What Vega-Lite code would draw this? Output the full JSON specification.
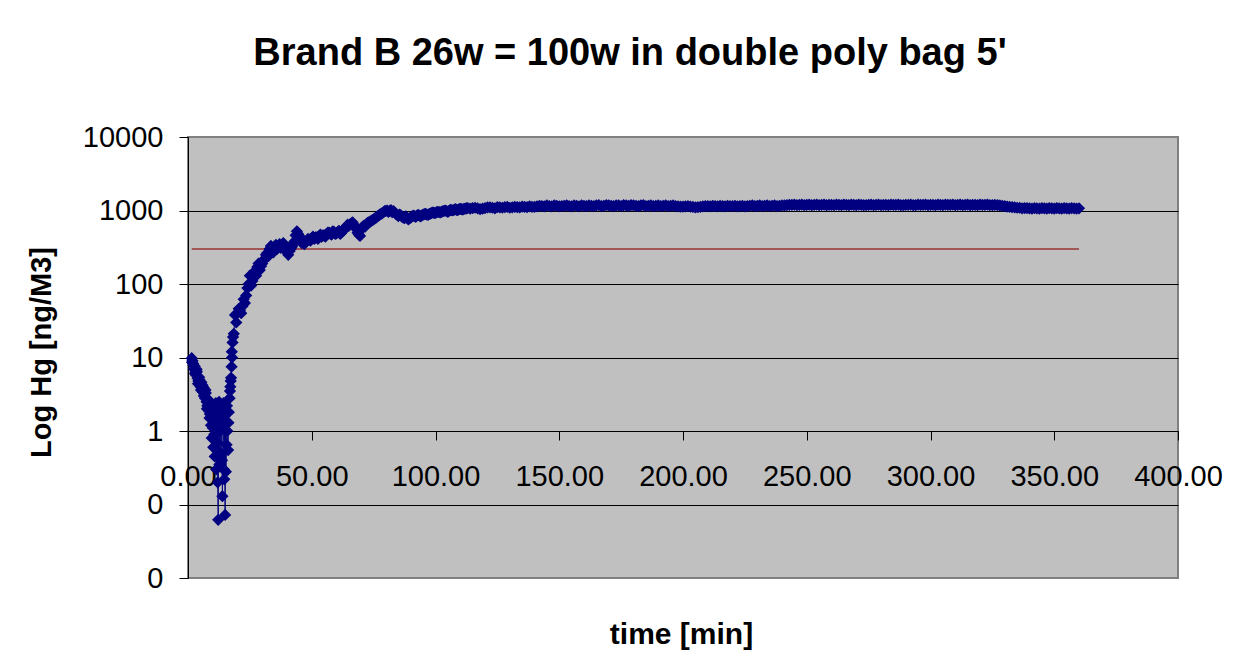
{
  "$schema": "https://vega.github.io/schema/vega-lite/v6.json",
  "description": "Brand B 26w = 100w in double poly bag 5'",
  "width": 990,
  "height": 441,
  "autosize": "none",
  "padding": {"left": 188, "top": 137, "right": 60, "bottom": 93},
  "background": "white",
  "title": {
    "text": "Brand B 26w = 100w in double poly bag 5'",
    "font": "Liberation Sans",
    "fontSize": 38,
    "fontWeight": "bold",
    "color": "black",
    "anchor": "middle",
    "baseline": "alphabetic",
    "dx": -53,
    "offset": 20
  },
  "config": {
    "font": "Liberation Sans",
    "view": {"fill": "#c0c0c0", "stroke": "#808080", "strokeWidth": 2}
  },
  "encoding": {
    "x": {
      "field": "t",
      "type": "quantitative",
      "scale": {"domain": [0, 400], "nice": false, "zero": false},
      "axis": {
        "title": "time [min]",
        "values": [0, 50, 100, 150, 200, 250, 300, 350, 400],
        "format": ".2f",
        "offset": -147,
        "grid": false,
        "tickSize": 9,
        "tickColor": "black",
        "domainColor": "black",
        "labelColor": "black",
        "labelFont": "Liberation Sans",
        "labelFontSize": 29,
        "labelPadding": 22,
        "labelFlush": false,
        "labelOverlap": false,
        "titleFont": "Liberation Sans",
        "titleFontSize": 30,
        "titleFontWeight": "bold",
        "titleColor": "black",
        "titleBaseline": "alphabetic",
        "titleX": 493,
        "titleY": 212
      }
    },
    "y": {
      "field": "v",
      "type": "quantitative",
      "scale": {"type": "log", "domain": [0.01, 10000], "nice": false},
      "axis": {
        "title": "Log Hg [ng/M3]",
        "values": [0.01, 0.1, 1, 10, 100, 1000, 10000],
        "labelExpr": "datum.value < 1 ? '0' : format(datum.value, 'd')",
        "grid": true,
        "gridColor": {"condition": {"test": "datum.value <= 0.01 || datum.value >= 10000", "value": "#808080"}, "value": "black"},
        "gridWidth": 1,
        "tickSize": 9,
        "tickColor": "black",
        "domainColor": "black",
        "labelColor": "black",
        "labelFont": "Liberation Sans",
        "labelFontSize": 29,
        "labelPadding": 16,
        "labelBaseline": "middle",
        "titleFont": "Liberation Sans",
        "titleFontSize": 29,
        "titleFontWeight": "bold",
        "titleColor": "black",
        "titleBaseline": "alphabetic",
        "titleX": -138,
        "titleY": 215
      }
    }
  },
  "layer": [
    {
      "data": {"values": [{"t": 1.5, "v": 300}, {"t": 360, "v": 300}]},
      "mark": {"type": "line", "color": "#993333", "strokeWidth": 1.5}
    },
    {
      "data": {
        "values": [
          {"t": 1.5, "v": 9.8}, {"t": 1.8, "v": 9.0}, {"t": 2.1, "v": 8.2}, {"t": 2.4, "v": 7.0}, {"t": 2.7, "v": 7.6},
          {"t": 3.0, "v": 6.3}, {"t": 3.3, "v": 5.8}, {"t": 3.6, "v": 6.4}, {"t": 3.9, "v": 5.2}, {"t": 4.2, "v": 4.8},
          {"t": 4.5, "v": 5.4}, {"t": 4.8, "v": 4.5}, {"t": 5.1, "v": 4.0}, {"t": 5.4, "v": 4.6}, {"t": 5.7, "v": 3.7},
          {"t": 6.0, "v": 3.4}, {"t": 6.3, "v": 3.9}, {"t": 6.6, "v": 3.1}, {"t": 6.9, "v": 2.8}, {"t": 7.2, "v": 3.3},
          {"t": 7.5, "v": 2.5}, {"t": 7.8, "v": 2.2}, {"t": 8.1, "v": 2.7}, {"t": 8.4, "v": 1.9}, {"t": 8.7, "v": 1.5},
          {"t": 9.0, "v": 2.1}, {"t": 9.3, "v": 1.2}, {"t": 9.6, "v": 0.8}, {"t": 9.9, "v": 1.6}, {"t": 10.2, "v": 0.6},
          {"t": 10.5, "v": 1.9}, {"t": 10.8, "v": 0.45}, {"t": 11.1, "v": 1.3}, {"t": 11.4, "v": 0.3}, {"t": 11.7, "v": 2.0},
          {"t": 12.0, "v": 0.2}, {"t": 12.2, "v": 0.062}, {"t": 12.4, "v": 1.5}, {"t": 12.7, "v": 0.35}, {"t": 13.0, "v": 2.2},
          {"t": 13.3, "v": 0.5}, {"t": 13.6, "v": 1.8}, {"t": 13.9, "v": 0.13}, {"t": 14.2, "v": 1.1}, {"t": 14.5, "v": 0.3},
          {"t": 14.8, "v": 2.0}, {"t": 15.0, "v": 0.072}, {"t": 15.3, "v": 0.28}, {"t": 15.6, "v": 0.65}, {"t": 15.9, "v": 1.0},
          {"t": 16.2, "v": 0.55}, {"t": 16.5, "v": 1.8}, {"t": 16.8, "v": 2.8}, {"t": 17.1, "v": 4.0}, {"t": 17.4, "v": 5.3},
          {"t": 17.6, "v": 7.5}, {"t": 17.8, "v": 10}, {"t": 18.0, "v": 16}, {"t": 18.5, "v": 21},
          {"t": 1.65, "v": 8.6}, {"t": 2.25, "v": 7.8}, {"t": 2.85, "v": 6.0}, {"t": 3.45, "v": 6.9}, {"t": 4.05, "v": 4.4},
          {"t": 4.65, "v": 5.0}, {"t": 5.25, "v": 3.6}, {"t": 5.85, "v": 4.2}, {"t": 6.45, "v": 3.0}, {"t": 7.05, "v": 3.6},
          {"t": 7.65, "v": 2.0}, {"t": 8.25, "v": 2.4}, {"t": 8.85, "v": 1.7}, {"t": 9.45, "v": 2.3}, {"t": 10.05, "v": 1.1},
          {"t": 10.65, "v": 0.9}, {"t": 11.25, "v": 2.4}, {"t": 11.85, "v": 0.7}, {"t": 12.55, "v": 2.5}, {"t": 13.15, "v": 1.0},
          {"t": 13.75, "v": 0.4}, {"t": 14.35, "v": 2.4}, {"t": 14.65, "v": 0.22}, {"t": 15.15, "v": 1.4}, {"t": 15.75, "v": 2.2},
          {"t": 16.35, "v": 1.3}, {"t": 16.95, "v": 3.5}, {"t": 17.25, "v": 4.8}, {"t": 17.7, "v": 12}, {"t": 18.2, "v": 19},
          {"t": 19, "v": 38}, {"t": 20, "v": 40}, {"t": 21, "v": 44}, {"t": 22, "v": 50}, {"t": 23, "v": 55},
          {"t": 24, "v": 88}, {"t": 25, "v": 130}, {"t": 26, "v": 110}, {"t": 27, "v": 150}, {"t": 28, "v": 170},
          {"t": 29, "v": 155}, {"t": 30, "v": 190}, {"t": 31, "v": 220}, {"t": 32, "v": 265}, {"t": 33, "v": 300},
          {"t": 34, "v": 290}, {"t": 35, "v": 320}, {"t": 36, "v": 300}, {"t": 37, "v": 350}, {"t": 38, "v": 340},
          {"t": 39, "v": 310}, {"t": 40, "v": 270}, {"t": 41, "v": 280}, {"t": 42, "v": 320}, {"t": 43, "v": 380},
          {"t": 44, "v": 520}, {"t": 45, "v": 450}, {"t": 46, "v": 360}, {"t": 47, "v": 350}, {"t": 48, "v": 390},
          {"t": 49, "v": 400}, {"t": 50, "v": 420}, {"t": 51, "v": 410}, {"t": 52, "v": 430}, {"t": 53, "v": 450},
          {"t": 54, "v": 440}, {"t": 55, "v": 460}, {"t": 56, "v": 480}, {"t": 57, "v": 500}, {"t": 58, "v": 470},
          {"t": 59, "v": 510}, {"t": 60, "v": 490}, {"t": 61, "v": 530}, {"t": 62, "v": 500}, {"t": 63, "v": 560},
          {"t": 64, "v": 590}, {"t": 65, "v": 620}, {"t": 66, "v": 670}, {"t": 67, "v": 640}, {"t": 68, "v": 560},
          {"t": 69, "v": 470}, {"t": 70, "v": 560}, {"t": 71, "v": 620}, {"t": 72, "v": 650}, {"t": 73, "v": 690},
          {"t": 74, "v": 720}, {"t": 75, "v": 760}, {"t": 76, "v": 800}, {"t": 77, "v": 850}, {"t": 78, "v": 900},
          {"t": 79, "v": 950}, {"t": 80, "v": 990}, {"t": 81, "v": 960}, {"t": 82, "v": 1010}, {"t": 83, "v": 980},
          {"t": 84, "v": 900}, {"t": 85, "v": 840}, {"t": 86, "v": 860}, {"t": 87, "v": 800}, {"t": 88, "v": 830},
          {"t": 89, "v": 760}, {"t": 90, "v": 800}, {"t": 91, "v": 850}, {"t": 92, "v": 820}, {"t": 93, "v": 870},
          {"t": 94, "v": 830}, {"t": 95, "v": 880}, {"t": 96, "v": 900}, {"t": 97, "v": 870}, {"t": 98, "v": 910},
          {"t": 99, "v": 940}, {"t": 100, "v": 930}, {"t": 101, "v": 960}, {"t": 102, "v": 940}, {"t": 103, "v": 980},
          {"t": 104, "v": 1000}, {"t": 105, "v": 960}, {"t": 106, "v": 1020}, {"t": 107, "v": 1000}, {"t": 108, "v": 1040},
          {"t": 109, "v": 1010}, {"t": 110, "v": 1050}, {"t": 111, "v": 1030}, {"t": 112, "v": 1060}, {"t": 113, "v": 1080},
          {"t": 19.5, "v": 30}, {"t": 20.5, "v": 46}, {"t": 21.5, "v": 40}, {"t": 22.5, "v": 62}, {"t": 23.5, "v": 70},
          {"t": 24.5, "v": 100}, {"t": 25.5, "v": 95}, {"t": 26.5, "v": 140}, {"t": 27.5, "v": 130}, {"t": 28.5, "v": 190},
          {"t": 29.5, "v": 175}, {"t": 30.5, "v": 210}, {"t": 31.5, "v": 250}, {"t": 32.5, "v": 240}, {"t": 33.5, "v": 330},
          {"t": 34.5, "v": 270}, {"t": 35.5, "v": 340}, {"t": 36.5, "v": 330}, {"t": 37.5, "v": 310}, {"t": 38.5, "v": 360},
          {"t": 39.5, "v": 290}, {"t": 40.5, "v": 250}, {"t": 41.5, "v": 300}, {"t": 42.5, "v": 350}, {"t": 43.5, "v": 460},
          {"t": 44.5, "v": 480}, {"t": 45.5, "v": 400}, {"t": 46.5, "v": 380}, {"t": 47.5, "v": 370}, {"t": 48.5, "v": 410},
          {"t": 49.5, "v": 390}, {"t": 50.5, "v": 440}, {"t": 51.5, "v": 430}, {"t": 52.5, "v": 410}, {"t": 53.5, "v": 470},
          {"t": 54.5, "v": 460}, {"t": 55.5, "v": 440}, {"t": 56.5, "v": 500}, {"t": 57.5, "v": 480}, {"t": 58.5, "v": 520},
          {"t": 59.5, "v": 480}, {"t": 60.5, "v": 510}, {"t": 61.5, "v": 480}, {"t": 62.5, "v": 540}, {"t": 63.5, "v": 570},
          {"t": 64.5, "v": 640}, {"t": 65.5, "v": 650}, {"t": 66.5, "v": 690}, {"t": 67.5, "v": 600}, {"t": 68.5, "v": 500},
          {"t": 69.5, "v": 450}, {"t": 70.5, "v": 600}, {"t": 71.5, "v": 600}, {"t": 72.5, "v": 680}, {"t": 73.5, "v": 700},
          {"t": 74.5, "v": 740}, {"t": 75.5, "v": 780}, {"t": 76.5, "v": 830}, {"t": 77.5, "v": 880}, {"t": 78.5, "v": 920},
          {"t": 79.5, "v": 980}, {"t": 80.5, "v": 1000}, {"t": 81.5, "v": 990}, {"t": 82.5, "v": 950}, {"t": 83.5, "v": 940},
          {"t": 84.5, "v": 870}, {"t": 85.5, "v": 880}, {"t": 86.5, "v": 820}, {"t": 87.5, "v": 790}, {"t": 88.5, "v": 800},
          {"t": 89.5, "v": 780}, {"t": 90.5, "v": 830}, {"t": 91.5, "v": 840}, {"t": 92.5, "v": 850}, {"t": 93.5, "v": 850},
          {"t": 94.5, "v": 860}, {"t": 95.5, "v": 890}, {"t": 96.5, "v": 880}, {"t": 97.5, "v": 900}, {"t": 98.5, "v": 930},
          {"t": 99.5, "v": 920}, {"t": 100.5, "v": 950}, {"t": 101.5, "v": 950}, {"t": 102.5, "v": 960}, {"t": 103.5, "v": 990},
          {"t": 104.5, "v": 980}, {"t": 105.5, "v": 990}, {"t": 106.5, "v": 1010}, {"t": 107.5, "v": 1020}, {"t": 108.5, "v": 1020},
          {"t": 109.5, "v": 1040}, {"t": 110.5, "v": 1040}, {"t": 111.5, "v": 1050}, {"t": 112.5, "v": 1070},
          {"t": 114, "v": 1060}, {"t": 116, "v": 1090}, {"t": 118, "v": 1040}, {"t": 120, "v": 1080}, {"t": 122, "v": 1100},
          {"t": 124, "v": 1070}, {"t": 126, "v": 1100}, {"t": 128, "v": 1110}, {"t": 130, "v": 1090}, {"t": 132, "v": 1120},
          {"t": 134, "v": 1100}, {"t": 136, "v": 1120}, {"t": 138, "v": 1140}, {"t": 140, "v": 1120}, {"t": 142, "v": 1160},
          {"t": 144, "v": 1140}, {"t": 146, "v": 1150}, {"t": 148, "v": 1170}, {"t": 150, "v": 1140}, {"t": 152, "v": 1160},
          {"t": 154, "v": 1150}, {"t": 156, "v": 1170}, {"t": 158, "v": 1140}, {"t": 160, "v": 1160}, {"t": 162, "v": 1170},
          {"t": 164, "v": 1150}, {"t": 166, "v": 1180}, {"t": 168, "v": 1160}, {"t": 170, "v": 1170}, {"t": 172, "v": 1150},
          {"t": 174, "v": 1170}, {"t": 176, "v": 1180}, {"t": 178, "v": 1160}, {"t": 180, "v": 1170}, {"t": 182, "v": 1150},
          {"t": 184, "v": 1180}, {"t": 186, "v": 1160}, {"t": 188, "v": 1150}, {"t": 190, "v": 1170}, {"t": 192, "v": 1160},
          {"t": 194, "v": 1150}, {"t": 196, "v": 1170}, {"t": 198, "v": 1140}, {"t": 200, "v": 1130}, {"t": 202, "v": 1150},
          {"t": 204, "v": 1120}, {"t": 206, "v": 1110}, {"t": 208, "v": 1140}, {"t": 210, "v": 1150}, {"t": 212, "v": 1160},
          {"t": 214, "v": 1140}, {"t": 216, "v": 1150}, {"t": 218, "v": 1160}, {"t": 220, "v": 1150}, {"t": 222, "v": 1140},
          {"t": 224, "v": 1160}, {"t": 226, "v": 1150}, {"t": 228, "v": 1170}, {"t": 230, "v": 1160}, {"t": 232, "v": 1150},
          {"t": 234, "v": 1170}, {"t": 236, "v": 1160}, {"t": 238, "v": 1150}, {"t": 240, "v": 1170}, {"t": 242, "v": 1180},
          {"t": 244, "v": 1190}, {"t": 246, "v": 1180}, {"t": 248, "v": 1200}, {"t": 250, "v": 1190}, {"t": 252, "v": 1180},
          {"t": 254, "v": 1200}, {"t": 256, "v": 1190}, {"t": 258, "v": 1180}, {"t": 260, "v": 1190}, {"t": 262, "v": 1200},
          {"t": 264, "v": 1180}, {"t": 266, "v": 1190}, {"t": 268, "v": 1200}, {"t": 270, "v": 1180}, {"t": 272, "v": 1190},
          {"t": 274, "v": 1180}, {"t": 276, "v": 1200}, {"t": 278, "v": 1190}, {"t": 280, "v": 1180}, {"t": 282, "v": 1190},
          {"t": 284, "v": 1200}, {"t": 286, "v": 1190}, {"t": 288, "v": 1180}, {"t": 290, "v": 1190}, {"t": 292, "v": 1200},
          {"t": 294, "v": 1180}, {"t": 296, "v": 1190}, {"t": 298, "v": 1200}, {"t": 300, "v": 1190}, {"t": 302, "v": 1180},
          {"t": 304, "v": 1190}, {"t": 306, "v": 1200}, {"t": 308, "v": 1190}, {"t": 310, "v": 1180}, {"t": 312, "v": 1200},
          {"t": 314, "v": 1190}, {"t": 316, "v": 1180}, {"t": 318, "v": 1190}, {"t": 320, "v": 1200}, {"t": 322, "v": 1190},
          {"t": 324, "v": 1180}, {"t": 326, "v": 1190}, {"t": 328, "v": 1170}, {"t": 330, "v": 1150}, {"t": 332, "v": 1120},
          {"t": 334, "v": 1100}, {"t": 336, "v": 1090}, {"t": 338, "v": 1080}, {"t": 340, "v": 1070}, {"t": 342, "v": 1080},
          {"t": 344, "v": 1060}, {"t": 346, "v": 1070}, {"t": 348, "v": 1080}, {"t": 350, "v": 1060}, {"t": 352, "v": 1070},
          {"t": 354, "v": 1080}, {"t": 356, "v": 1060}, {"t": 358, "v": 1070}, {"t": 360, "v": 1070},
          {"t": 115, "v": 1080}, {"t": 117, "v": 1070}, {"t": 119, "v": 1060}, {"t": 121, "v": 1100}, {"t": 123, "v": 1090},
          {"t": 125, "v": 1110}, {"t": 127, "v": 1090}, {"t": 129, "v": 1120}, {"t": 131, "v": 1100}, {"t": 133, "v": 1110},
          {"t": 135, "v": 1130}, {"t": 137, "v": 1110}, {"t": 139, "v": 1120}, {"t": 141, "v": 1140}, {"t": 143, "v": 1150},
          {"t": 145, "v": 1170}, {"t": 147, "v": 1140}, {"t": 149, "v": 1160}, {"t": 151, "v": 1150}, {"t": 153, "v": 1170},
          {"t": 155, "v": 1140}, {"t": 157, "v": 1160}, {"t": 159, "v": 1170}, {"t": 161, "v": 1150}, {"t": 163, "v": 1160},
          {"t": 165, "v": 1170}, {"t": 167, "v": 1150}, {"t": 169, "v": 1180}, {"t": 171, "v": 1160}, {"t": 173, "v": 1170},
          {"t": 175, "v": 1150}, {"t": 177, "v": 1170}, {"t": 179, "v": 1180}, {"t": 181, "v": 1160}, {"t": 183, "v": 1170},
          {"t": 185, "v": 1150}, {"t": 187, "v": 1170}, {"t": 189, "v": 1160}, {"t": 191, "v": 1150}, {"t": 193, "v": 1170},
          {"t": 195, "v": 1160}, {"t": 197, "v": 1150}, {"t": 199, "v": 1130}, {"t": 201, "v": 1140}, {"t": 203, "v": 1130},
          {"t": 205, "v": 1100}, {"t": 207, "v": 1120}, {"t": 209, "v": 1150}, {"t": 211, "v": 1140}, {"t": 213, "v": 1150},
          {"t": 215, "v": 1160}, {"t": 217, "v": 1140}, {"t": 219, "v": 1150}, {"t": 221, "v": 1160}, {"t": 223, "v": 1150},
          {"t": 225, "v": 1140}, {"t": 227, "v": 1160}, {"t": 229, "v": 1150}, {"t": 231, "v": 1170}, {"t": 233, "v": 1160},
          {"t": 235, "v": 1150}, {"t": 237, "v": 1170}, {"t": 239, "v": 1160}, {"t": 241, "v": 1170}, {"t": 243, "v": 1190},
          {"t": 245, "v": 1200}, {"t": 247, "v": 1190}, {"t": 249, "v": 1180}, {"t": 251, "v": 1200}, {"t": 253, "v": 1190},
          {"t": 255, "v": 1180}, {"t": 257, "v": 1200}, {"t": 259, "v": 1190}, {"t": 261, "v": 1180}, {"t": 263, "v": 1190},
          {"t": 265, "v": 1200}, {"t": 267, "v": 1180}, {"t": 269, "v": 1190}, {"t": 271, "v": 1200}, {"t": 273, "v": 1180},
          {"t": 275, "v": 1190}, {"t": 277, "v": 1180}, {"t": 279, "v": 1200}, {"t": 281, "v": 1190}, {"t": 283, "v": 1180},
          {"t": 285, "v": 1190}, {"t": 287, "v": 1200}, {"t": 289, "v": 1180}, {"t": 291, "v": 1190}, {"t": 293, "v": 1180},
          {"t": 295, "v": 1200}, {"t": 297, "v": 1190}, {"t": 299, "v": 1180}, {"t": 301, "v": 1190}, {"t": 303, "v": 1200},
          {"t": 305, "v": 1180}, {"t": 307, "v": 1190}, {"t": 309, "v": 1200}, {"t": 311, "v": 1190}, {"t": 313, "v": 1180},
          {"t": 315, "v": 1200}, {"t": 317, "v": 1190}, {"t": 319, "v": 1180}, {"t": 321, "v": 1190}, {"t": 323, "v": 1200},
          {"t": 325, "v": 1180}, {"t": 327, "v": 1180}, {"t": 329, "v": 1160}, {"t": 331, "v": 1130}, {"t": 333, "v": 1110},
          {"t": 335, "v": 1090}, {"t": 337, "v": 1070}, {"t": 339, "v": 1080}, {"t": 341, "v": 1060}, {"t": 343, "v": 1070},
          {"t": 345, "v": 1080}, {"t": 347, "v": 1060}, {"t": 349, "v": 1070}, {"t": 351, "v": 1080}, {"t": 353, "v": 1060},
          {"t": 355, "v": 1070}, {"t": 357, "v": 1080}, {"t": 359, "v": 1060}
        ]
      },
      "mark": {
        "type": "line",
        "color": "#000080",
        "strokeWidth": 1,
        "point": {"shape": "diamond", "filled": true, "size": 150, "color": "#000080"}
      }
    }
  ]
}
